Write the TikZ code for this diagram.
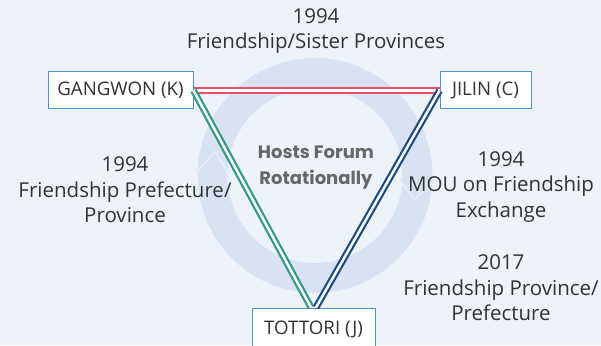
\documentclass[tikz,border=0pt]{standalone}
\usepackage{fontspec}
\setmainfont{Open Sans}
\newfontfamily\hostfont{Poppins}
\definecolor{bgblue}{HTML}{EEF3FA}
\definecolor{ringblue}{HTML}{D9E2F2}
\definecolor{boxblue}{HTML}{4A8FD0}
\definecolor{pinkred}{HTML}{E8506A}
\definecolor{teal}{HTML}{2E9A84}
\definecolor{navy}{HTML}{1B4A85}
\definecolor{txtgray}{HTML}{333333}
\definecolor{hostgray}{HTML}{676767}
\newcommand\txtsize{\fontsize{20.5}{25.5}\selectfont}
\newcommand\boxsize{\fontsize{18.7}{22}\selectfont}

\begin{document}
\begin{tikzpicture}[x=1pt,y=1pt,
    ring/.style={fill=ringblue, draw=bgblue, line width=1pt, line join=miter},
    box/.style={draw=boxblue, fill=white, line width=1pt, minimum height=37pt,
      inner sep=0pt, text=txtgray, font=\boxsize},
    yeartext/.style={align=center, text=txtgray, font=\txtsize},
    link/.style={line width=2.2pt, double=white, double distance=2.5pt},
  ]
    \fill[bgblue] (0,0) rectangle (601,345);
    \useasboundingbox (0,0) rectangle (601,345);
    % circular arrows behind everything
    \begin{scope}[shift={(315,169.5)}]
      \draw[ring] (-1.6:118) arc[start angle=-1.6, end angle=-181.6, radius=118]
        -- (-181.6:122) -- (-193.6:102.5) -- (-181.6:83) -- (-181.6:87)
        arc[start angle=-181.6, end angle=-1.6, radius=87] -- (-13.6:102.5) -- cycle;
      \draw[ring] (178.4:118) arc[start angle=178.4, end angle=-1.6, radius=118]
        -- (-1.6:122) -- (-13.6:102.5) -- (-1.6:83) -- (-1.6:87)
        arc[start angle=-1.6, end angle=178.4, radius=87] -- (166.4:102.5) -- cycle;
    \end{scope}
    % provinces
    \node[box, minimum width=145pt] (gangwon) at (120.5,254.5) {GANGWON (K)};
    \node[box, minimum width=91pt] (jilin) at (485.5,254.5) {JILIN (C)};
    \node[box, minimum width=123pt, minimum height=42pt] (tottori) at (313.5,16) {TOTTORI (J)};
    % links
    \draw[link, pinkred] (gangwon.east) -- (jilin.west);
    \draw[link, teal] (gangwon.east) -- ([xshift=-2.5pt]tottori.north);
    \draw[link, navy] (jilin.west) -- ([xshift=2.5pt]tottori.north);
    % texts
    \node[yeartext] (top) at (316,314) {1994\\Friendship/Sister Provinces};
    \node[yeartext] (left) at (125,155) {1994\\Friendship Prefecture/\\Province};
    \node[yeartext] (mou) at (501,158) {1994\\MOU on Friendship\\Exchange};
    \node[yeartext] (y2017) at (501,57) {2017\\Friendship Province/\\Prefecture};
    \node[align=center, text=hostgray, font={\hostfont\bfseries\fontsize{18}{26}\selectfont}]
      (hosts) at (316,177) {Hosts Forum\\Rotationally};
\end{tikzpicture}
\end{document}
